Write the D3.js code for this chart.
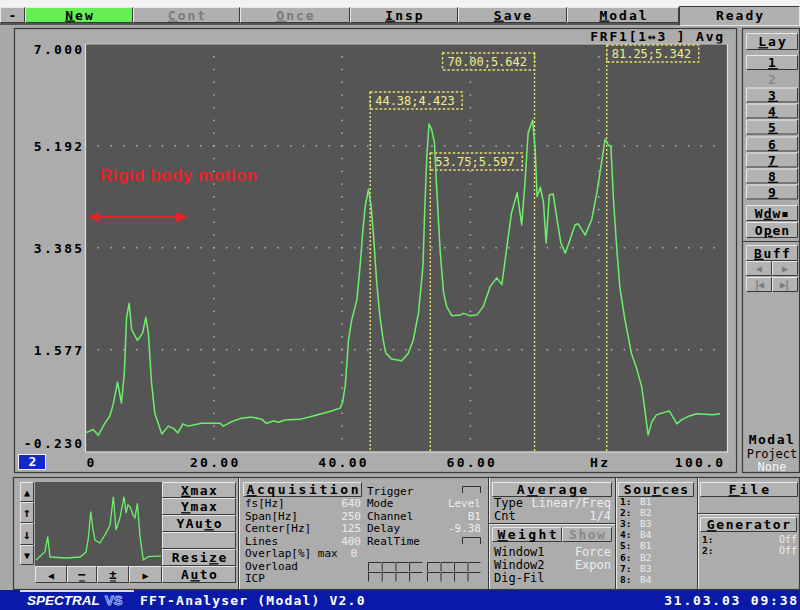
<!DOCTYPE html>
<html><head><meta charset="utf-8">
<script src="https://cdn.jsdelivr.net/npm/d3@7"></script>
<style>
html,body{margin:0;padding:0;background:#a9a9a9;}
svg{display:block;}
</style></head><body>
<svg id="c" width="800" height="610"></svg>
<script>
// ---------------- DATA ----------------
const freq = [0.0,1.2,2.0,3.0,3.8,4.3,5.0,5.6,6.05,6.4,6.8,7.2,8.1,8.9,9.4,9.8,10.3,10.8,11.9,12.9,13.7,14.4,15.2,16.0,18.1,21.0,21.5,22.8,24.3,25.9,27.5,28.2,29.3,30.1,31.1,33.4,35.5,38.1,39.7,40.1,40.5,41.0,41.5,42.3,42.8,43.2,43.6,44.1,44.5,44.9,45.4,45.9,46.4,46.8,47.7,49.3,50.3,51.1,51.9,52.6,52.9,53.2,53.55,53.96,54.4,54.7,55.3,55.8,56.3,57.1,58.4,58.9,59.9,61.0,62.0,63.1,64.1,64.9,65.7,66.4,67.3,68.0,68.5,69.0,69.7,70.1,70.4,70.9,71.4,71.8,72.3,72.9,73.6,74.1,74.8,75.5,76.3,76.8,77.9,78.9,79.7,80.5,81.0,81.5,81.9,82.3,82.8,83.3,84.1,84.6,85.1,85.9,86.7,87.2,87.7,88.3,89.0,90.1,91.0,92.2,92.9,93.9,95.3,97.8,98.9];
const amp = [0.10,0.16,0.06,0.27,0.40,0.60,1.00,0.63,1.16,2.14,2.40,1.93,1.74,1.87,2.15,1.87,0.98,0.45,0.08,0.22,0.18,0.10,0.26,0.22,0.27,0.27,0.22,0.30,0.36,0.38,0.34,0.27,0.31,0.29,0.33,0.34,0.40,0.48,0.54,0.65,0.95,1.75,2.10,2.46,3.05,3.64,4.12,4.42,4.15,3.60,2.76,2.16,1.75,1.52,1.41,1.38,1.51,1.75,2.22,3.05,4.12,5.00,5.58,5.48,5.24,4.53,3.30,2.60,2.34,2.18,2.19,2.22,2.18,2.19,2.34,2.70,2.85,2.73,3.41,4.00,4.36,3.79,4.53,5.42,5.65,5.12,4.29,4.46,4.18,3.47,4.32,4.34,3.82,3.47,3.29,3.52,3.79,3.81,3.61,3.88,4.35,4.94,5.31,5.21,5.18,4.24,3.40,2.68,2.10,1.81,1.51,1.25,0.92,0.51,0.06,0.30,0.42,0.46,0.49,0.26,0.33,0.39,0.44,0.42,0.44];
const yTicks = [-0.230, 1.577, 3.385, 5.192, 7.000];
const yTickLabels = ["-0.230","1.577","3.385","5.192","7.000"];
const xTicks = [0, 20, 40, 60, 80, 100];
const xTickLabels = ["0","20.00","40.00","60.00","Hz","100.0"];
const cursorFreq = [44.38, 53.75, 70.00, 81.25];
const cursorAmp = [4.423, 5.597, 5.642, 5.342];
const miniFreq = [0.8,7.9,10.0,11.8,25.0,35.4,40.2,42.0,43.9,45.7,47.2,51.2,56.5,59.1,61.7,63.8,66.9,70.1,71.7,73.2,74.8,77.2,78.7,80.6,82.7,85.3,89.2,95.8,99.2];
const miniAmp = [-0.05,0.70,2.06,0.22,0.13,0.22,0.67,1.94,4.32,2.66,1.76,1.49,2.51,3.11,5.67,2.66,3.75,5.67,4.20,4.92,4.77,4.02,3.75,5.08,2.06,-0.05,0.25,0.31,0.31];

// ---------------- HELPERS ----------------
const MONO='"DejaVu Sans Mono", monospace';
const SANS='"Liberation Sans", Arial, sans-serif';
const C = {bg:'#a9a9a9', face:'#b3b3b3', dark:'#3a3a3a', light:'#e8e8e8', plot:'#555555',
  green:'#6cf06c', yellow:'#e8e070', ytext:'#efef90', val:'#ececec', gray:'#7a7a7a'};
const svg = d3.select('#c');
svg.append('rect').attr('width',800).attr('height',610).attr('fill',C.bg);

function label(g,x,y,str,o={}){
  const t=g.append('text').attr('x',x).attr('y',y)
    .attr('font-size',o.size||11).attr('font-weight',o.bold?'bold':'normal')
    .attr('fill',o.color||'#000').attr('text-anchor',o.anchor||'start')
    .attr('font-style',o.italic?'italic':null)
    .style('font-family',o.family||MONO)
    .style('letter-spacing',(o.ls||0)+'px');
  if(o.u!=null&&o.u>=0){
    t.append('tspan').text(str.slice(0,o.u));
    t.append('tspan').style('text-decoration','underline').text(str[o.u]);
    t.append('tspan').text(str.slice(o.u+1));
  } else t.text(str);
  return t;
}
function bevel(g,x,y,w,h,o={}){
  g.append('rect').attr('x',x).attr('y',y).attr('width',w).attr('height',h).attr('fill',o.fill||C.face);
  g.append('path').attr('d',`M${x+0.5},${y+h-0.5}V${y+0.5}H${x+w-0.5}`).attr('fill','none').attr('stroke',o.sunken?C.dark:C.light);
  g.append('path').attr('d',`M${x+w-0.5},${y+0.5}V${y+h-0.5}H${x+0.5}`).attr('fill','none').attr('stroke',o.sunken?C.light:C.dark);
}
function button(g,x,y,w,h,str,o={}){
  bevel(g,x,y,w,h,o);
  const size=o.size||13, ls=o.ls==null?2:o.ls;
  label(g,x+w/2+ls/2,y+h/2+size*0.36,str,{size,bold:o.bold!==false,color:o.color,ls,u:o.u,anchor:'middle'});
}
function frame(g,x,y,w,h,fill){
  g.append('rect').attr('x',x+0.5).attr('y',y+0.5).attr('width',w).attr('height',h)
   .attr('fill',fill||'none').attr('stroke',C.dark).attr('stroke-width',1.2);
}

// ---------------- TOP BAR ----------------
const tb = svg.append('g');
tb.append('rect').attr('x',0).attr('y',0).attr('width',800).attr('height',7).attr('fill','#f2f2f2');
const tbEdges=[0,25,133,240,350,458,567,679,800];
const tbLabels=['-','New','Cont','Once','Insp','Save','Modal','Ready'];
const tbU=[-1,0,0,0,0,0,0,-1];
tbLabels.forEach((s,i)=>{
  const x0=tbEdges[i], w=tbEdges[i+1]-tbEdges[i];
  const fill = i===1?'#66ee55':'#b0b0b0';
  const col = (i===2||i===3)?C.gray:'#000';
  if(i===7){
    bevel(tb,x0,6,w,20,{sunken:true,fill:'#b0b0b0'});
    label(tb,x0+w/2+1,20,s,{size:13,bold:true,ls:2,anchor:'middle'});
  } else {
    bevel(tb,x0,7,w,16,{fill});
    label(tb,x0+w/2+1,19.5,s,{size:13,bold:true,ls:2,anchor:'middle',color:col,u:tbU[i]});
  }
});
tb.append('line').attr('x1',0).attr('x2',679).attr('y1',24).attr('y2',24).attr('stroke',C.dark).attr('stroke-width',1.5);

// ---------------- MAIN PANEL ----------------
const mp = svg.append('g');
frame(mp,14,28,722,444,'#acacac');
frame(mp,742,28,57,444,'#acacac');

label(mp,725,41,'FRF1[1\u21943 ] Avg',{size:13,bold:true,ls:1.8,anchor:'end'});

const X0=85.5, X1=727, Y0=44, Y1=451.5;
const x=d3.scaleLinear().domain([0,100]).range([X0,X1]);
const y=d3.scaleLinear().domain([-0.23,7.0]).range([Y1,Y0]);

mp.append('rect').attr('x',X0).attr('y',Y0).attr('width',X1-X0).attr('height',Y1-Y0).attr('fill',C.plot);
mp.append('path').attr('d',`M${X0},${Y0}V${Y1+0.5}H${X1+0.5}V${Y0}`).attr('fill','none').attr('stroke','#dedede').attr('stroke-width',1.2);
mp.append('line').attr('x1',X0).attr('x2',X1).attr('y1',Y0).attr('y2',Y0).attr('stroke','#c8c8c8');

// grid dots
const grid=mp.append('g').attr('fill','#b6b6b6');
yTicks.slice(1,-1).forEach(v=>{
  d3.range(2,100,2).forEach(f=>grid.append('rect').attr('x',x(f)-0.75).attr('y',y(v)-0.75).attr('width',1.5).attr('height',1.5));
});
xTicks.slice(1,-1).forEach(f=>{
  d3.range(1,32).forEach(j=>grid.append('rect').attr('x',x(f)-0.75).attr('y',Y0+j*(Y1-Y0)/32-0.75).attr('width',1.5).attr('height',1.5));
});

// axes
const ya=mp.append('g').attr('transform',`translate(${X0},0)`)
  .call(d3.axisLeft(y).tickValues(yTicks).tickFormat((d,i)=>yTickLabels[i]).tickSize(0).tickPadding(1));
ya.select('.domain').remove();
ya.selectAll('text').style('font-family',MONO).attr('font-size',13).attr('font-weight','bold')
  .attr('fill','#000').style('letter-spacing','2.3px')
  .attr('dy',(d,i)=> i===0? '-0.3em' : (i===yTicks.length-1? '0.75em':'0.36em'));
const xa=mp.append('g').attr('transform',`translate(0,${Y1})`)
  .call(d3.axisBottom(x).tickValues(xTicks).tickFormat((d,i)=>xTickLabels[i]).tickSize(0).tickPadding(6));
xa.select('.domain').remove();
xa.selectAll('text').style('font-family',MONO).attr('font-size',13).attr('font-weight','bold')
  .attr('fill','#000').style('letter-spacing','2.3px').attr('dy','0.71em')
  .attr('text-anchor',(d,i)=> i===0?'start':(i===xTicks.length-1?'end':'middle'))
  .attr('dx',(d,i)=> i===0? '0.5' : (i===xTicks.length-1? '-2':'1'));

// channel box
mp.append('rect').attr('x',18.5).attr('y',454.5).attr('width',27).attr('height',15).attr('fill','#1428c8').attr('stroke','#f0f0f0');
label(mp,32.5,466,'2',{size:13,bold:true,color:'#fff',anchor:'middle'});

// cursors
const boxY=[92,153,53,45], boxSide=['r','r','l','r'], boxW=92, boxH=17;
const cg=mp.append('g');
cursorFreq.forEach((f,i)=>{
  const cx=x(f), bx= boxSide[i]==='r'? cx : cx-boxW;
  cg.append('line').attr('x1',cx).attr('x2',cx).attr('y1',boxY[i]).attr('y2',Y1)
    .attr('stroke',C.yellow).attr('stroke-width',1.4).attr('stroke-dasharray','2,2');
  cg.append('rect').attr('x',bx).attr('y',boxY[i]).attr('width',boxW).attr('height',boxH)
    .attr('fill','none').attr('stroke',C.yellow).attr('stroke-width',1.4).attr('stroke-dasharray','2.5,2');
  label(cg,bx+5,boxY[i]+13,`${f.toFixed(2)};${cursorAmp[i].toFixed(3)}`,{size:12,color:C.ytext});
});

// curve
mp.append('path').datum(freq.map((f,i)=>[f,amp[i]]))
  .attr('d',d3.line().x(d=>x(d[0])).y(d=>y(d[1])))
  .attr('fill','none').attr('stroke',C.green).attr('stroke-width',1.5).attr('stroke-linejoin','round');

// annotation
label(mp,100,181,'Rigid body motion',{size:17,bold:true,color:'#e8202a',family:SANS,ls:0.5});
const ay=217, ax0=88, ax1=188;
mp.append('line').attr('x1',ax0+8).attr('x2',ax1-8).attr('y1',ay).attr('y2',ay).attr('stroke','#e8202a').attr('stroke-width',2);
mp.append('path').attr('d',`M${ax0},${ay}L${ax0+12},${ay-5}L${ax0+12},${ay+5}Z`).attr('fill','#e8202a');
mp.append('path').attr('d',`M${ax1},${ay}L${ax1-12},${ay-5}L${ax1-12},${ay+5}Z`).attr('fill','#e8202a');

// ---------------- SIDEBAR ----------------
const sb=svg.append('g');
const SX=746, SW=52;
button(sb,SX,33,SW,17,'Lay',{u:0});
button(sb,SX,55,SW,15,'1',{u:0});
label(sb,SX+SW/2,83.5,'2',{size:13,bold:true,color:'#8a8a8a',anchor:'middle'});
[3,4,5,6,7,8,9].forEach((n,k)=>{
  const cy=[95,111,127,144,160,176,192][k];
  button(sb,SX,cy-7.5,SW,15,String(n),{u:0});
});
button(sb,SX,205,SW,16,'Wdw\u25AA',{u:1,ls:1});
button(sb,SX,222,SW,16,'Open',{u:1,ls:1});
sb.append('line').attr('x1',743).attr('x2',799).attr('y1',241.5).attr('y2',241.5).attr('stroke',C.dark);
button(sb,SX,245,SW,16,'Buff',{u:0,ls:1.5});
button(sb,SX,261,26,15,'\u25C0',{size:10,color:'#7a7a7a',ls:0});
button(sb,SX+26,261,26,15,'\u25B6',{size:10,color:'#7a7a7a',ls:0});
button(sb,SX,277,26,15,'|\u25C0',{size:10,color:'#7a7a7a',ls:-2});
button(sb,SX+26,277,26,15,'\u25B6|',{size:10,color:'#7a7a7a',ls:-2});
label(sb,772,443.5,'Modal',{size:13,bold:true,ls:1.5,anchor:'middle'});
label(sb,772,458,'Project',{size:12,anchor:'middle'});
label(sb,772,470.5,'None',{size:12,color:'#f4f4f4',anchor:'middle'});

// ---------------- BOTTOM PANEL ----------------
const bp=svg.append('g');
frame(bp,13,477,786,112,'#acacac');
[238,488,615,697].forEach(sx=>{
  bp.append('line').attr('x1',sx+0.5).attr('x2',sx+0.5).attr('y1',478).attr('y2',589).attr('stroke',C.dark);
  bp.append('line').attr('x1',sx+1.5).attr('x2',sx+1.5).attr('y1',478).attr('y2',589).attr('stroke',C.light);
});

// left: arrows column
[['\u25B2',482,20,10],['\u2191',502,21,13],['\u2193',523,22,13],['\u25BC',545,20,10]].forEach(a=>{
  button(bp,20,a[1],14,a[2],a[0],{size:a[3],ls:0});
});
// mini plot
const mx=d3.scaleLinear().domain([0,100]).range([35,162]);
const my=d3.scaleLinear().domain([-0.23,7.0]).range([562,482]);
bp.append('rect').attr('x',35).attr('y',482).attr('width',127).attr('height',84).attr('fill',C.plot);
bp.append('path').datum(miniFreq.map((f,i)=>[f,miniAmp[i]]))
  .attr('d',d3.line().x(d=>mx(d[0])).y(d=>my(d[1])))
  .attr('fill','none').attr('stroke',C.green).attr('stroke-width',1.3);
[['\u25C0',35,67,-1],['\u2212',67,97,0],['\u00B1',97,129,0],['\u25B6',129,162,-1]].forEach(b=>{
  bevel(bp,b[1],566,b[2]-b[1],17);
  label(bp,(b[1]+b[2])/2,578.5,b[0],{size:b[3]<0?10:13,bold:true,anchor:'middle'});
  if(b[3]===0) bp.append('line').attr('x1',(b[1]+b[2])/2-3).attr('x2',(b[1]+b[2])/2+3).attr('y1',581).attr('y2',581).attr('stroke','#000');
});
button(bp,162,482,74,16,'Xmax',{u:0,ls:1.5});
button(bp,162,498,74,17,'Ymax',{u:0,ls:1.5});
button(bp,162,515,74,17,'YAuto',{u:3,ls:1.5});
bevel(bp,162,532,74,17);
button(bp,162,549,74,17,'Resize',{u:4,ls:1.5});
button(bp,162,566,74,17,'Auto',{u:1,ls:1.5});

// acquisition
button(bp,243,482,119,15,'Acquisition',{u:0,ls:2.6});
const acqL=['fs[Hz]','Span[Hz]','Center[Hz]','Lines','Overlap[%] max','Overload','ICP'];
const acqV=['640','250','125','400','0','',''];
const acqB=[507,519.5,532,544.5,556.5,569.5,581.5];
acqL.forEach((s,i)=>{
  label(bp,245,acqB[i],s,{size:11});
  if(acqV[i]) label(bp,i===4?357:361,acqB[i],acqV[i],{size:11,color:C.val,anchor:'end'});
});
const trL=['Trigger','Mode','Channel','Delay','RealTime'];
const trV=['','Level','B1','-9.38',''];
const trB=[494.5,507,519.5,532,544.5];
trL.forEach((s,i)=>{
  label(bp,367,trB[i],s,{size:11});
  if(trV[i]) label(bp,481,trB[i],trV[i],{size:11,color:C.val,anchor:'end'});
});
[486,537].forEach(by=>{
  bp.append('path').attr('d',`M462.5,${by+7}V${by+0.5}H480.5V${by+7}`).attr('fill','none').attr('stroke','#303030');
});
[[368,4,13.7],[427,4,13.5]].forEach(gp=>{
  for(let r=0;r<2;r++) for(let c=0;c<gp[1];c++){
    bp.append('path').attr('d',`M${gp[0]+c*gp[2]+0.5},${562+r*10+9.5}V${562+r*10+0.5}H${gp[0]+(c+1)*gp[2]-0.5}`)
      .attr('fill','none').attr('stroke','#303030');
  }
});

// average
button(bp,492,482,120,15,'Average',{u:1,ls:2.6});
label(bp,494,507,'Type',{size:12});
label(bp,611,507,'Linear/Freq',{size:12,color:C.val,anchor:'end'});
label(bp,494,519.5,'Cnt',{size:12});
label(bp,611,519.5,'1/4',{size:12,color:C.val,anchor:'end'});
bp.append('line').attr('x1',489).attr('x2',615).attr('y1',523.5).attr('y2',523.5).attr('stroke',C.dark);
bp.append('line').attr('x1',489).attr('x2',615).attr('y1',524.5).attr('y2',524.5).attr('stroke',C.light);
button(bp,492,527,70,15,'Weight',{u:0,ls:2.4});
button(bp,562,527,50,15,'Show',{ls:1.5,color:'#888'});
[['Window1','Force',555.5],['Window2','Expon',569],['Dig-Fil','',581.5]].forEach(r=>{
  label(bp,494,r[2],r[0],{size:12});
  if(r[1]) label(bp,611,r[2],r[1],{size:12,color:C.val,anchor:'end'});
});

// sources
button(bp,618,482,76,15,'Sources',{u:3,ls:1.6});
const srcV=['B1','B2','B3','B4','B1','B2','B3','B4'];
srcV.forEach((s,i)=>{
  const by=505+i*11.1;
  label(bp,620,by,(i+1)+':',{size:9.5,bold:true});
  label(bp,640,by,s,{size:9.5,color:C.val});
});

// file / generator
button(bp,700,482,98,15,'File',{u:0,ls:3});
bp.append('line').attr('x1',698).attr('x2',799).attr('y1',513.5).attr('y2',513.5).attr('stroke',C.dark);
bp.append('line').attr('x1',698).attr('x2',799).attr('y1',514.5).attr('y2',514.5).attr('stroke',C.light);
button(bp,700,517,97,15,'Generator',{u:0,ls:1.6});
[['1:',542.5],['2:',554]].forEach(r=>{
  label(bp,702,r[1],r[0],{size:9.5,bold:true});
  label(bp,797,r[1],'Off',{size:10,color:C.val,anchor:'end'});
});

// ---------------- STATUS BAR ----------------
const st=svg.append('g');
st.append('rect').attr('x',0).attr('y',590).attr('width',800).attr('height',20).attr('fill','#0a1aa8');
st.append('rect').attr('x',20).attr('y',590).attr('width',114).attr('height',2).attr('fill','#d8d8e8');
label(st,27,605,'SPECTRAL',{size:13.5,bold:true,italic:true,color:'#fff',family:SANS});
label(st,105,605,'VS',{size:13,bold:true,color:'none',family:SANS})
  .attr('stroke','#9fb0ff').attr('stroke-width',1);
label(st,140,605,'FFT-Analyser (Modal) V2.0',{size:13,bold:true,color:'#fff',ls:1.2});
label(st,799,605,'31.03.03 09:38',{size:13,bold:true,color:'#fff',ls:1.8,anchor:'end'});
</script>
</body></html>
